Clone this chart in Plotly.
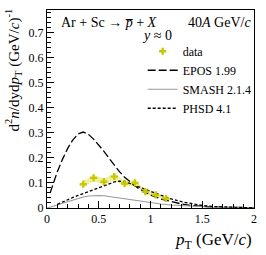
import plotly.graph_objects as go

# data points
data_pt = [0.35, 0.45, 0.55, 0.65, 0.75, 0.85, 0.95, 1.05, 1.15]
data_y = [0.095, 0.120, 0.105, 0.125, 0.098, 0.100, 0.065, 0.052, 0.038]
data_stat = [0.008, 0.008, 0.007, 0.008, 0.007, 0.007, 0.006, 0.005, 0.004]
data_sys = [0.012, 0.013, 0.012, 0.013, 0.011, 0.011, 0.009, 0.008, 0.006]

# EPOS 1.99
epos_pt = [0.03, 0.05, 0.1, 0.15, 0.2, 0.25, 0.3, 0.35, 0.4, 0.45, 0.5, 0.55, 0.6, 0.65, 0.7,
           0.75, 0.8, 0.85, 0.9, 0.95, 1.0, 1.1, 1.2, 1.3, 1.4, 1.5, 1.6, 1.7, 1.8, 1.9, 2.0]
epos_y = [0.06, 0.085, 0.145, 0.195, 0.238, 0.272, 0.295, 0.303, 0.294, 0.275, 0.252, 0.226,
          0.198, 0.170, 0.145, 0.123, 0.104, 0.088, 0.074, 0.062, 0.052, 0.036, 0.025, 0.016,
          0.010, 0.006, 0.004, 0.003, 0.002, 0.001, 0.001]

# SMASH 2.1.4
smash_pt = [0.0, 0.05, 0.1, 0.15, 0.2, 0.25, 0.3, 0.35, 0.4, 0.45, 0.5, 0.55, 0.6, 0.65, 0.7,
            0.75, 0.8, 0.85, 0.9, 0.95, 1.0, 1.1, 1.2, 1.3, 1.4, 1.5, 1.6, 1.7, 1.8, 1.9, 2.0]
smash_y = [0.0, 0.005, 0.012, 0.019, 0.026, 0.033, 0.039, 0.044, 0.048, 0.050, 0.050, 0.049,
           0.046, 0.042, 0.038, 0.034, 0.033, 0.031, 0.028, 0.024, 0.021, 0.016, 0.012, 0.009,
           0.006, 0.004, 0.003, 0.002, 0.002, 0.001, 0.001]

# PHSD 4.1
phsd_pt = [0.1, 0.15, 0.2, 0.25, 0.3, 0.35, 0.4, 0.45, 0.5, 0.55, 0.6, 0.65, 0.7, 0.75, 0.8,
           0.85, 0.9, 0.95, 1.0, 1.1, 1.2, 1.3, 1.4, 1.5, 1.6, 1.7, 1.8, 1.9, 2.0]
phsd_y = [0.015, 0.025, 0.033, 0.042, 0.050, 0.058, 0.066, 0.074, 0.082, 0.090, 0.098, 0.104,
          0.107, 0.104, 0.098, 0.090, 0.082, 0.074, 0.066, 0.050, 0.036, 0.025, 0.016, 0.010,
          0.006, 0.004, 0.002, 0.001, 0.0005]

x_ticks = [0, 0.5, 1, 1.5, 2]
x_ticklabels = ["0", "0.5", "1", "1.5", "2"]
y_ticks = [0, 0.1, 0.2, 0.3, 0.4, 0.5, 0.6, 0.7]
y_ticklabels = ["0", "0.1", "0.2", "0.3", "0.4", "0.5", "0.6", "0.7"]

FONT = "Liberation Serif"
YEL = "#c8c800"

fig = go.Figure()

# systematic band
upper = [v + s for v, s in zip(data_y, data_sys)]
lower = [v - s for v, s in zip(data_y, data_sys)]
fig.add_trace(go.Scatter(x=data_pt, y=upper, mode="lines", line=dict(width=0),
                         showlegend=False, hoverinfo="skip"))
fig.add_trace(go.Scatter(x=data_pt, y=lower, mode="lines", line=dict(width=0),
                         fill="tonexty", fillcolor="rgba(228,228,100,0.6)",
                         showlegend=False, hoverinfo="skip"))

fig.add_trace(go.Scatter(x=epos_pt, y=epos_y, mode="lines", name="EPOS 1.99",
                         legendrank=2, legendgroup="b",
                         line=dict(color="black", width=1.3, dash="8px,3px")))
fig.add_trace(go.Scatter(x=smash_pt, y=smash_y, mode="lines", name="SMASH 2.1.4",
                         legendrank=3, legendgroup="c",
                         line=dict(color="#999999", width=1.1)))
fig.add_trace(go.Scatter(x=phsd_pt, y=phsd_y, mode="lines", name="PHSD 4.1",
                         legendrank=4, legendgroup="d",
                         line=dict(color="black", width=1.3, dash="3px,2px")))

fig.add_trace(go.Scatter(x=data_pt, y=data_y, mode="markers", name="data",
                         legendrank=1, legendgroup="a",
                         marker=dict(symbol="cross", size=6, color=YEL),
                         error_y=dict(type="data", array=data_stat, color=YEL,
                                      thickness=1, width=0)))

axis_common = dict(showline=True, linecolor="black", linewidth=1, mirror=True,
                   ticks="inside", tickcolor="black", ticklen=7, showgrid=False,
                   zeroline=False, tickfont=dict(family=FONT, size=12, color="black"))

fig.update_xaxes(range=[0, 2], tickvals=x_ticks, ticktext=x_ticklabels,
                 minor=dict(dtick=0.1, ticks="inside", ticklen=4, tickcolor="black"),
                 **axis_common)
fig.update_yaxes(range=[0, 0.79], tickvals=y_ticks, ticktext=y_ticklabels,
                 minor=dict(dtick=0.02, ticks="inside", ticklen=4, tickcolor="black"),
                 **axis_common)

fig.add_annotation(xref="paper", yref="paper", x=1.0, y=-0.10, xanchor="right", yanchor="top",
                   text="<i>p</i><sub>T</sub> (GeV/<i>c</i>)", showarrow=False,
                   font=dict(family=FONT, size=17, color="black"))
fig.add_annotation(xref="paper", yref="paper", x=-0.165, y=1.02, xanchor="center", yanchor="top",
                   textangle=-90,
                   text="d<sup>2</sup><i>n</i>/dyd<i>p</i><sub>T</sub> (GeV/<i>c</i>)<sup>-1</sup>",
                   showarrow=False, font=dict(family=FONT, size=15, color="black"))
fig.add_annotation(xref="paper", yref="paper", x=0.06, y=0.985, xanchor="left", yanchor="top",
                   text="Ar + Sc \u2192 <i>p\u0305</i> + <i>X</i>",
                   showarrow=False, font=dict(family=FONT, size=14, color="black"))
fig.add_annotation(xref="paper", yref="paper", x=0.53, y=0.92, xanchor="center", yanchor="top",
                   text="<i>y</i> \u2248 0", showarrow=False,
                   font=dict(family=FONT, size=14, color="black"))
fig.add_annotation(xref="paper", yref="paper", x=0.995, y=0.985, xanchor="right", yanchor="top",
                   text="40<i>A</i> GeV/<i>c</i>", showarrow=False,
                   font=dict(family=FONT, size=14, color="black"))

fig.update_layout(
    width=266, height=255,
    margin=dict(l=47, r=11, t=10, b=47),
    paper_bgcolor="white", plot_bgcolor="white",
    showlegend=True,
    legend=dict(x=0.46, y=0.865, xanchor="left", yanchor="top", bgcolor="rgba(0,0,0,0)",
                font=dict(family=FONT, size=12, color="black"), itemwidth=30,
                traceorder="normal", tracegroupgap=3),
)

fig.write_html("out.html", config={"displayModeBar": False},
               post_script="document.body.style.margin='0';")
